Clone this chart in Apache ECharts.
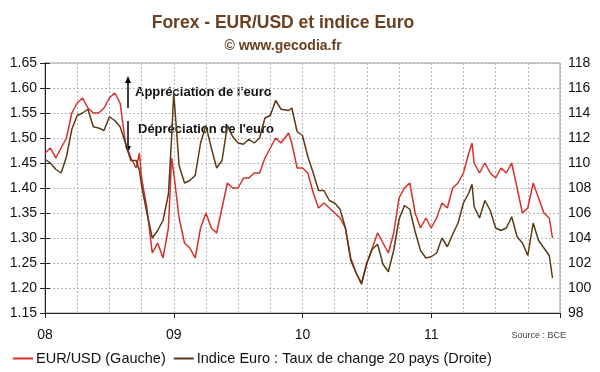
<!DOCTYPE html>
<html>
<head>
<meta charset="utf-8">
<script src="https://cdn.jsdelivr.net/npm/echarts@6/dist/echarts.min.js"></script>
<style>html,body{margin:0;padding:0;background:#fff}#c{width:600px;height:372px}</style>
</head>
<body>
<div id="c"></div>
<script>
// x position in months since Jan 2008
var months = [0,0.5,1,1.5,2,2.5,3,3.5,4,4.5,5,5.5,6,6.5,7,7.5,8,8.5,8.8,9,9.5,10,10.5,11,11.5,11.8,12,12.5,13,13.5,14,14.5,15,15.5,16,16.5,17,17.5,18,18.5,19,19.5,20,20.5,21,21.5,22,22.7,23,23.5,24,24.5,25,25.5,26,26.5,27,27.5,28,28.5,29,29.5,30,30.5,31,31.5,32,32.5,33,33.5,34,34.5,35,35.5,36,36.5,37,37.5,38,38.5,39,39.5,39.8,40,40.5,41,41.5,42,42.5,43,43.5,44,44.5,45,45.5,46,46.5,47,47.3];
var eurUsd = [1.47,1.48,1.46,1.48,1.50,1.55,1.57,1.58,1.56,1.55,1.55,1.56,1.58,1.59,1.57,1.49,1.46,1.44,1.47,1.42,1.36,1.27,1.29,1.26,1.32,1.46,1.43,1.34,1.29,1.28,1.26,1.32,1.35,1.32,1.31,1.36,1.41,1.40,1.40,1.42,1.42,1.43,1.43,1.46,1.48,1.50,1.49,1.51,1.49,1.44,1.44,1.43,1.39,1.36,1.37,1.36,1.35,1.34,1.32,1.26,1.23,1.21,1.25,1.28,1.31,1.29,1.27,1.31,1.38,1.40,1.41,1.35,1.32,1.34,1.32,1.34,1.37,1.36,1.40,1.41,1.43,1.47,1.49,1.45,1.43,1.45,1.43,1.42,1.44,1.43,1.45,1.40,1.35,1.36,1.41,1.38,1.35,1.34,1.30];
var indiceEuro = [110.3,110.0,109.5,109.2,110.5,112.7,113.8,114.0,114.3,112.9,112.8,112.6,113.7,113.4,112.9,111.6,110.2,110.2,109.4,108.2,106.0,104.0,104.6,105.4,107.5,112.0,115.6,109.8,108.4,108.6,109.0,111.6,113.0,111.2,109.6,110.2,113.0,112.1,111.6,111.5,111.9,111.6,112.0,113.6,113.8,115.0,114.3,114.2,114.4,112.5,112.2,110.5,109.2,107.8,107.8,107.0,106.8,106.3,104.8,102.2,101.2,100.3,102.0,103.1,103.5,101.9,101.3,103.0,105.5,106.6,106.3,104.5,103.0,102.4,102.5,102.8,104.0,103.3,104.3,105.2,106.8,107.6,108.3,106.5,105.6,107.0,106.2,104.8,104.6,104.8,105.7,104.1,103.6,102.6,105.2,103.8,103.2,102.6,100.8];
var yearLabels = ['08','09','10','11'];
var seriesNames = ['EUR/USD (Gauche)', 'Indice Euro : Taux de change 20 pays (Droite)'];

var FONT = 'Liberation Sans, Arial, sans-serif';
var redData = months.map(function(m,i){return [m, eurUsd[i]];});
var brownData = months.map(function(m,i){return [m, indiceEuro[i]];});

var chart = echarts.init(document.getElementById('c'), null, {renderer:'canvas'});
chart.setOption({
  animation:false,
  backgroundColor:'#fff',
  title:[
    {text:'Forex - EUR/USD et indice Euro', left:278, top:9, textAlign:'center',
     textStyle:{fontFamily:FONT, fontSize:17.5, fontWeight:'bold', color:'#6b4020'}},
    {text:'© www.gecodia.fr', left:278, top:34, textAlign:'center',
     textStyle:{fontFamily:FONT, fontSize:14, fontWeight:'bold', color:'#6b4020'}}
  ],
  legend:{
    left:8, top:346, itemWidth:20, itemHeight:2, itemGap:8, icon:'rect',
    textStyle:{fontFamily:FONT, fontSize:14.5, color:'#111', padding:[0,0,0,-2]},
    data:seriesNames
  },
  grid:{left:45, right:40, top:63, bottom:59, show:true, borderColor:'#999', borderWidth:1},
  xAxis:[
    {type:'value', min:0, max:48, interval:12, position:'bottom',
     axisLine:{lineStyle:{color:'#222'}},
     axisTick:{show:true, length:5, lineStyle:{color:'#222'}},
     axisLabel:{fontFamily:FONT, fontSize:14, color:'#111', margin:15,
       formatter:function(v){var k=Math.round(v/12); return k<yearLabels.length?yearLabels[k]:'';}},
     splitLine:{show:false}},
    {type:'value', min:0, max:48, interval:3, position:'bottom',
     axisLine:{show:false}, axisTick:{show:false}, axisLabel:{show:false},
     splitLine:{show:true, lineStyle:{color:'#b5b5b5', type:[2,2], width:1}}}
  ],
  yAxis:[
    {type:'value', min:1.15, max:1.65, interval:0.05, position:'left',
     axisLine:{show:true, lineStyle:{color:'#222'}},
     axisTick:{show:true, length:5, lineStyle:{color:'#222'}},
     axisLabel:{fontFamily:FONT, fontSize:14, color:'#111', margin:8,
       formatter:function(v){return v.toFixed(2);}},
     splitLine:{show:true, lineStyle:{color:'#b5b5b5', type:[2,2], width:1}}},
    {type:'value', min:98, max:118, interval:2, position:'right',
     axisLine:{show:true, lineStyle:{color:'#222'}},
     axisTick:{show:true, length:5, lineStyle:{color:'#222'}},
     axisLabel:{fontFamily:FONT, fontSize:14, color:'#111', margin:8},
     splitLine:{show:false}}
  ],
  series:[
    {name:seriesNames[0], type:'line', xAxisIndex:0, yAxisIndex:0, data:redData,
     showSymbol:false, lineStyle:{color:'#d6302a', width:1.5}, itemStyle:{color:'#d6302a'}, z:3},
    {name:seriesNames[1], type:'line', xAxisIndex:0, yAxisIndex:1, data:brownData,
     showSymbol:false, lineStyle:{color:'#5b3a16', width:1.5}, itemStyle:{color:'#5b3a16'}, z:4}
  ],
  graphic:[
    {type:'line', shape:{x1:128, y1:108, x2:128, y2:82}, style:{stroke:'#000', lineWidth:1.5}},
    {type:'polygon', shape:{points:[[125,83],[131,83],[128,76]]}, style:{fill:'#000'}},
    {type:'line', shape:{x1:128, y1:121, x2:128, y2:147}, style:{stroke:'#000', lineWidth:1.5}},
    {type:'polygon', shape:{points:[[125,146],[131,146],[128,153]]}, style:{fill:'#000'}},
    {type:'text', left:135, top:86, style:{text:"Appréciation de l'euro", font:'bold 13px '+FONT, fill:'#111'}},
    {type:'text', left:138, top:123, style:{text:"Dépréciation de l'euro", font:'bold 13px '+FONT, fill:'#111'}},
    {type:'text', right:34, top:331, style:{text:'Source : BCE', font:'9px '+FONT, fill:'#444'}}
  ]
});
</script>
</body>
</html>
